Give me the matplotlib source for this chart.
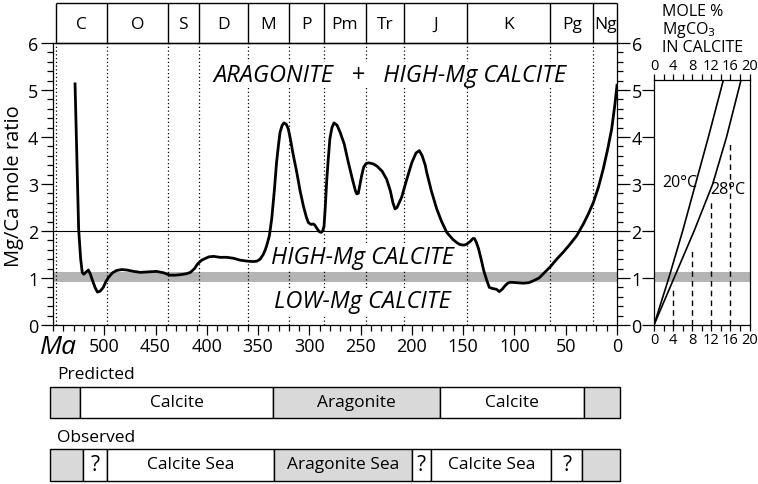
import matplotlib
matplotlib.use("Agg")
import matplotlib.pyplot as plt
from matplotlib.ticker import MultipleLocator

plt.rcParams['font.family'] = ['Open Sans', 'DejaVu Sans']

# Mg/Ca curve (age in Ma, mole ratio)
ages = [528.5, 525, 523, 521.5, 520, 518, 515.5, 513.5, 512, 509, 506.7, 504, 501,
        498.5, 496, 492, 488, 483, 478, 471, 465, 457, 449, 442, 436, 431, 426, 420,
        416, 412, 409, 405, 403, 398, 393.6, 387, 380.6, 374, 367.6, 361, 354.6, 351,
        348, 345, 343, 341.6, 339, 336.7, 334, 332, 330, 328.6, 326.5, 324.7, 322.5,
        320.5, 318, 316, 312.3, 309, 305.9, 303, 301, 298.5, 296, 294.5, 292.8, 290.5,
        288.6, 287, 285.7, 284.5, 283, 281.5, 280, 278, 276, 273, 270, 266, 262, 258,
        255, 253.8, 252.3, 251, 249, 247, 244.5, 242, 238, 234, 229, 224.6, 221, 218.5,
        216.5, 214.5, 212.5, 210, 205, 200, 196, 192.8, 190, 187, 185.6, 181, 175.8,
        171, 166, 160, 156, 153, 149, 146.6, 143, 140.5, 139, 137, 135, 132.5, 130, 127,
        124.5, 122, 120, 117.5, 114.8, 112, 109, 106.5, 104, 98, 91.4, 86, 81.6, 76,
        71.9, 65, 58.8, 52, 45.8, 39.3, 32.8, 28, 23, 18, 13.4, 9, 5.2, 2, 0]
mgca = [5.13, 2.04, 1.4, 1.12, 1.08, 1.12, 1.17, 1.08, 0.98, 0.80, 0.70, 0.72, 0.80,
        0.92, 1.01, 1.11, 1.16, 1.18, 1.17, 1.14, 1.12, 1.13, 1.14, 1.11, 1.06, 1.06,
        1.07, 1.09, 1.12, 1.2, 1.30, 1.38, 1.40, 1.45, 1.46, 1.44, 1.44, 1.42, 1.38,
        1.36, 1.35, 1.36, 1.40, 1.5, 1.6, 1.69, 1.9, 2.26, 2.9, 3.46, 3.85, 4.10, 4.25,
        4.30, 4.27, 4.17, 3.9, 3.65, 3.25, 2.85, 2.54, 2.3, 2.18, 2.14, 2.15, 2.12,
        2.06, 1.99, 1.97, 2.0, 2.1, 2.5, 3.1, 3.55, 3.96, 4.2, 4.30, 4.25, 4.10, 3.85,
        3.46, 3.1, 2.85, 2.79, 2.8, 2.95, 3.18, 3.36, 3.44, 3.45, 3.43, 3.38, 3.27, 3.1,
        2.85, 2.6, 2.47, 2.5, 2.6, 2.72, 3.1, 3.46, 3.66, 3.71, 3.6, 3.4, 3.25, 2.85,
        2.47, 2.2, 1.97, 1.82, 1.75, 1.71, 1.70, 1.72, 1.78, 1.84, 1.84, 1.75, 1.62,
        1.4, 1.16, 0.95, 0.80, 0.78, 0.77, 0.76, 0.71, 0.76, 0.84, 0.89, 0.91, 0.90,
        0.89, 0.90, 0.94, 1.0, 1.09, 1.24, 1.40, 1.56, 1.72, 1.90, 2.15, 2.36, 2.61,
        2.94, 3.32, 3.75, 4.17, 4.7, 5.1]

period_names = ['C', 'O', 'S', 'D', 'M', 'P', 'Pm', 'Tr', 'J', 'K', 'Pg', 'Ng']
period_bounds = [547, 497, 438, 408, 360, 320, 286, 245, 208, 146, 65, 23, 0]

# right panel: mole % MgCO3 vs Mg/Ca ratio
ratio_pts = [0, 1, 2, 3, 4, 5.2]
mol_20 = [0, 3.1, 6.0, 8.7, 11.4, 14.5]
mol_28 = [0, 4.2, 8.4, 12.3, 15.2, 18.2]
dash_mol = [4, 8, 12, 16]
dash_top = [0.82, 1.6, 2.68, 3.92]

# bottom bars
pred_edges = [553, 524, 335, 173, 32, -3]
pred_gray = [True, False, True, False, True]
pred_text = ['', 'Calcite', 'Aragonite', 'Calcite', '']
obs_edges = [553, 521, 497, 334, 200, 181, 64, 34, -3]
obs_gray = [True, False, False, True, False, False, False, True]
obs_text = ['', '?', 'Calcite Sea', 'Aragonite Sea', '?', 'Calcite Sea', '?', '']

W, H = 758, 485
fig = plt.figure(figsize=(W / 100, H / 100), dpi=100)


def px_axes(x0, y0, x1, y1):
    return fig.add_axes([x0 / W, 1 - y1 / H, (x1 - x0) / W, (y1 - y0) / H])


band = '#b4b4b4'
light = '#d9d9d9'

# main panel
ax = px_axes(53, 44, 617, 326)
ax.set_xlim(550, 0)
ax.set_ylim(0, 6)
ax.axhspan(0.92, 1.12, color=band, lw=0, zorder=1)
ax.axhline(2, color='k', lw=0.8, zorder=2)
for b in period_bounds[:-1]:
    ax.axvline(b, color='k', lw=0.9, ls=(0, (1, 2)), zorder=2)
ax.plot(ages, mgca, color='k', lw=2.0, zorder=3, solid_joinstyle='round')

ax.set_xticks(range(0, 501, 50))
ax.xaxis.set_minor_locator(MultipleLocator(10))
ax.yaxis.set_major_locator(MultipleLocator(1))
ax.yaxis.set_minor_locator(MultipleLocator(0.2))
ax.tick_params(which='both', direction='out', labelsize=13, right=True,
               labelright=True, width=0.9)
ax.tick_params(axis='y', which='major', length=9, pad=1.5)
ax.tick_params(axis='y', which='minor', length=4)
ax.tick_params(axis='x', which='major', length=7, pad=2)
ax.tick_params(axis='x', which='minor', length=4)
for s in ax.spines.values():
    s.set_linewidth(0.9)

blank = dict(facecolor='white', edgecolor='none', pad=1)
ax.text(221, 5.32, 'ARAGONITE   +   HIGH-Mg CALCITE', style='italic',
        fontsize=17, ha='center', va='center', bbox=blank, zorder=2.5)
ax.text(248, 1.45, 'HIGH-Mg CALCITE', style='italic', fontsize=17,
        ha='center', va='center', bbox=blank, zorder=2.5)
ax.text(248, 0.5, 'LOW-Mg CALCITE', style='italic', fontsize=17,
        ha='center', va='center', bbox=blank, zorder=2.5)

fig.text(14 / W, 1 - 186 / H, 'Mg/Ca mole ratio', rotation=90, fontsize=14.5,
         ha='center', va='center')
fig.text(58 / W, 1 - 347 / H, 'Ma', style='italic', fontsize=19,
         ha='center', va='center')

# period header
hd = px_axes(53, 4, 617, 44)
hd.set_xlim(550, 0)
hd.set_ylim(0, 1)
hd.axis('off')
hd.hlines([0, 1], period_bounds[0], 0, color='k', lw=1, clip_on=False)
hd.vlines(period_bounds, 0, 1, color='k', lw=1, clip_on=False)
for name, a, b in zip(period_names, period_bounds[:-1], period_bounds[1:]):
    hd.text((a + b) / 2, 0.48, name, ha='center', va='center', fontsize=12.5)

# right panel
rp = px_axes(654, 81, 749.5, 326)
rp.set_xlim(0, 20)
rp.set_ylim(0, 5.21)
rp.axhspan(0.92, 1.12, color=band, lw=0, zorder=1)
rp.plot(mol_20, ratio_pts, color='k', lw=1.2, zorder=3)
rp.plot(mol_28, ratio_pts, color='k', lw=1.2, zorder=3)
rp.vlines(dash_mol, 0, dash_top, color='k', lw=1, ls=(0, (4, 3)), zorder=2)
rp.set_xticks(range(0, 21, 4))
rp.xaxis.set_minor_locator(MultipleLocator(2))
rp.set_yticks(range(0, 6))
rp.tick_params(which='both', direction='out', top=True, labeltop=True,
               bottom=True, labelbottom=True, labelleft=False, labelsize=10.5,
               pad=1, width=0.9)
rp.tick_params(axis='x', which='both', length=4)
rp.tick_params(axis='y', length=9)
for s in rp.spines.values():
    s.set_linewidth(0.9)
rp.text(5.4, 3.04, '20°C', fontsize=11.5, ha='center', va='center')
rp.text(15.4, 2.9, '28°C', fontsize=11.5, ha='center', va='center')

fig.text(662 / W, 1 - 12 / H, 'MOLE %', fontsize=11.5, va='center')
fig.text(662 / W, 1 - 30 / H, 'MgCO$_3$', fontsize=11.5, va='center')
fig.text(662 / W, 1 - 48 / H, 'IN CALCITE', fontsize=11.5, va='center')

# predicted / observed bars
bx = px_axes(53, 340, 617, 485)
bx.set_xlim(550, 0)
bx.set_ylim(485, 340)
bx.axis('off')


def draw_bar(edges, gray, labels, yc, h):
    for a, b, g, t in zip(edges[:-1], edges[1:], gray, labels):
        bx.barh(yc, b - a, left=a, height=h, color=light if g else 'white',
                edgecolor='k', lw=1, clip_on=False)
        if t:
            bx.text((a + b) / 2, yc, t, ha='center', va='center',
                    fontsize=15 if t == '?' else 12.5)


draw_bar(pred_edges, pred_gray, pred_text, 403, 31)
draw_bar(obs_edges, obs_gray, obs_text, 465.5, 32)
fig.text(57 / W, 1 - 375 / H, 'Predicted', fontsize=12.5, va='center')
fig.text(57 / W, 1 - 438 / H, 'Observed', fontsize=12.5, va='center')

fig.savefig('out.png', dpi=100)
